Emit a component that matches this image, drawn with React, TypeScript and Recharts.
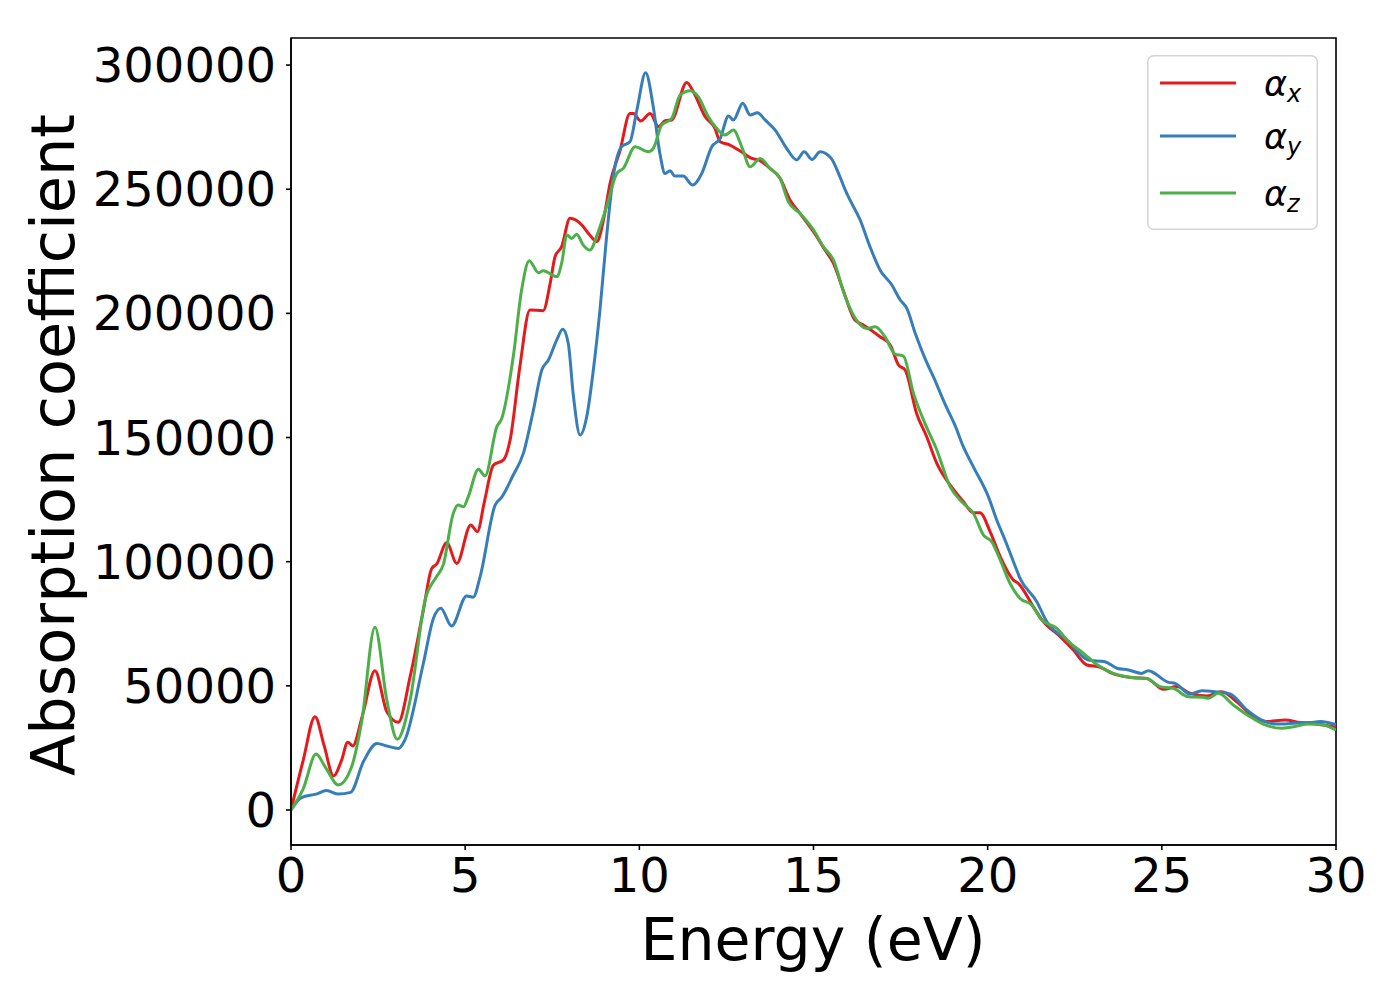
import { LineChart, Line, XAxis, YAxis, Legend, Label, ReferenceArea } from "recharts";

// energies (eV) and absorption values, one pair of arrays per polarisation
const energyX = [
  0, 0.35, 0.69, 0.95, 1.22, 1.45, 1.63, 1.77, 2.05, 2.41, 2.75, 3.08, 3.42, 3.8, 4.04, 4.18, 4.47, 4.76,
  5.16, 5.35, 5.55, 5.81, 6.1, 6.29, 6.57, 6.86, 7.24, 7.44, 7.58, 7.77, 8.01, 8.35, 8.54, 8.78, 8.97,
  9.16, 9.45, 9.73, 9.83, 10.04, 10.31, 10.55, 10.74, 10.93, 11.36, 11.55, 11.89, 12.17, 12.32, 12.6,
  12.99, 13.23, 13.42, 13.75, 14.04, 14.33, 14.61, 15.0, 15.33, 15.57, 15.86, 16.19, 16.43, 16.91, 17.2,
  17.44, 17.63, 17.96, 18.25, 18.54, 18.92, 19.3, 19.59, 19.78, 20.07, 20.36, 20.74, 20.88, 21.31, 21.6,
  22.03, 22.46, 22.85, 23.23, 23.61, 24.19, 24.57, 25.05, 25.43, 25.81, 26.29, 26.72, 27.15, 27.63,
  28.01, 28.54, 28.97, 29.45, 30,
];
const alphaX = [
  0, 20000, 37600, 26000, 13700, 20000, 27300, 25800, 38000, 56100, 39600, 35300, 53700, 80500, 97300,
  99000, 107600, 99300, 114800, 112100, 124000, 138900, 141000, 149000, 178500, 201400, 201100, 212100,
  222800, 226900, 238300, 235600, 232200, 228900, 237600, 252400, 265800, 280500, 280500, 277500,
  280500, 275200, 277600, 277900, 293000, 289300, 279200, 274500, 269100, 267800, 264500, 262400,
  261800, 258400, 254400, 245600, 240300, 232900, 225500, 220200, 209000, 197300, 195300, 190600,
  187300, 179200, 177200, 159700, 150300, 139600, 130900, 124200, 119700, 119700, 112100, 102000,
  92600, 91300, 81900, 75800, 70500, 64400, 58400, 57500, 54800, 53300, 53000, 48600, 49700, 47000,
  45900, 47600, 43600, 37600, 35600, 36200, 35200, 34600, 33300,
];

const energyY = [
  0, 0.3, 0.72, 1.02, 1.36, 1.71, 2.08, 2.47, 2.75, 3.08, 3.27, 3.8, 4.09, 4.3, 4.61, 5.04, 5.23, 5.43,
  5.86, 6.05, 6.38, 6.67, 6.96, 7.2, 7.39, 7.63, 7.8, 7.96, 8.11, 8.3, 8.49, 8.68, 8.87, 9.06, 9.25,
  9.49, 9.73, 9.93, 10.18, 10.4, 10.59, 10.74, 10.88, 11.02, 11.26, 11.53, 11.79, 12.08, 12.32, 12.56,
  12.7, 12.97, 13.18, 13.39, 13.61, 13.9, 14.23, 14.52, 14.73, 14.96, 15.19, 15.5, 15.76, 15.91, 16.05,
  16.34, 16.62, 16.91, 17.25, 17.49, 17.68, 17.92, 18.2, 18.44, 18.83, 19.06, 19.3, 19.59, 20.02, 20.26,
  20.5, 20.74, 20.93, 21.41, 21.7, 22.27, 22.89, 23.37, 23.71, 24.04, 24.42, 24.61, 25.19, 25.38, 25.81,
  26.15, 26.53, 26.96, 27.44, 27.87, 28.3, 28.78, 29.26, 29.55, 30,
];
const alphaY = [
  0, 5000, 6400, 7800, 6400, 7100, 19500, 26800, 25800, 24800, 28200, 59100, 77200, 81200, 74100,
  86200, 85700, 94000, 122800, 126000, 134900, 143600, 161100, 177200, 181200, 189300, 193600, 187900,
  166400, 151000, 158400, 177200, 201400, 230900, 255000, 267100, 269100, 281900, 296900, 283200,
  264400, 256300, 257400, 255300, 255300, 251700, 256300, 267100, 270400, 279500, 277900, 284600,
  279900, 280800, 277900, 273800, 266400, 261800, 265100, 262000, 265100, 262600, 255000, 249700,
  245600, 237600, 226900, 217500, 211400, 205400, 202000, 192000, 181900, 174500, 161800, 155000,
  146300, 138200, 126200, 116800, 108700, 100000, 93300, 83900, 75800, 68500, 60400, 59700, 57100,
  56400, 55000, 56100, 51400, 51000, 46700, 48000, 47600, 46700, 40300, 36200, 34600, 34900, 35200,
  35600, 34400,
];

const energyZ = [
  0, 0.35, 0.72, 0.98, 1.36, 1.74, 2.03, 2.41, 2.75, 3.05, 3.42, 3.85, 4.18, 4.37, 4.66, 4.8, 4.95, 5.09,
  5.38, 5.57, 5.91, 6.05, 6.38, 6.62, 6.84, 7.1, 7.24, 7.63, 7.77, 7.92, 8.06, 8.2, 8.39, 8.58, 8.82,
  9.06, 9.35, 9.54, 9.88, 10.26, 10.4, 10.64, 10.93, 11.17, 11.46, 11.69, 11.98, 12.22, 12.46, 12.7,
  12.94, 13.18, 13.47, 13.75, 14.04, 14.28, 14.61, 15.0, 15.28, 15.57, 15.91, 16.29, 16.53, 16.77,
  17.05, 17.34, 17.58, 17.87, 18.2, 18.54, 18.92, 19.3, 19.59, 19.88, 20.12, 20.36, 20.64, 20.93,
  21.26, 21.55, 21.98, 22.32, 22.75, 23.08, 23.61, 24.09, 24.57, 24.95, 25.33, 25.76, 26.19, 26.33,
  26.62, 27.05, 27.53, 27.91, 28.44, 28.78, 29.21, 29.64, 30,
];
const alphaZ = [
  0, 8500, 22500, 17400, 10100, 17400, 35600, 73600, 44300, 28500, 44300, 84600, 94000, 98700, 119500,
  122800, 122100, 126200, 137200, 134500, 154400, 157700, 182500, 209400, 221200, 216400, 217200,
  214800, 220200, 231600, 230200, 231900, 227500, 225500, 232900, 243000, 256300, 258400, 267100,
  265100, 266400, 275800, 278500, 287900, 289700, 287300, 279200, 274500, 271800, 273800, 267100,
  259000, 262400, 258400, 254400, 244900, 240300, 233600, 226900, 221500, 206700, 196200, 193900,
  194600, 190600, 183600, 182800, 167800, 155700, 145000, 130200, 123500, 119500, 110700, 108000,
  100700, 91300, 85200, 82600, 76500, 73200, 67800, 63100, 59100, 55000, 53400, 53000, 49700, 49000,
  45600, 45400, 45000, 47000, 42300, 37600, 34600, 32900, 33500, 34600, 34200, 32200,
];

const xTicks = [0, 5, 10, 15, 20, 25, 30];
const yTicks = [0, 50000, 100000, 150000, 200000, 250000, 300000];
const xDomain = [0, 30];
const yDomain = [-14100, 310900];

const toPoints = (es: number[], vs: number[]) => es.map((e, i) => ({ e, v: vs[i] }));

const series = [
  { sub: "x", color: "#e41a1c", data: toPoints(energyX, alphaX) },
  { sub: "y", color: "#377eb8", data: toPoints(energyY, alphaY) },
  { sub: "z", color: "#4daf4a", data: toPoints(energyZ, alphaZ) },
];

const FONT = "DejaVu Sans";
const tickStyle = { fill: "#000", fontSize: 48, fontFamily: FONT };

const LegendBox = () => {
  const rows = [28, 81, 138];
  return (
    <svg width={171} height={175} style={{ display: "block" }}>
      <rect x={0.75} y={0.75} width={169.5} height={173.5} rx={6} fill="#fff" fillOpacity={0.8} stroke="#d4d4d4" strokeWidth={1.5} />
      {series.map((s, i) => (
        <g key={s.sub}>
          <line x1={13} x2={89} y1={rows[i]} y2={rows[i]} stroke={s.color} strokeWidth={3} />
          <text x={117} y={rows[i] + 12.5} fontSize={35} fontStyle="italic" fontFamily={FONT} fill="#000">
            α
            <tspan dy={6.5} fontSize={24}>
              {s.sub}
            </tspan>
          </text>
        </g>
      ))}
    </svg>
  );
};

export default function App() {
  return (
    <div style={{ margin: -8, background: "#fff" }}>
      <LineChart width={1400} height={1000} margin={{ top: 38, right: 64, bottom: 35, left: 91 }}>
        <XAxis
          type="number"
          dataKey="e"
          domain={xDomain}
          ticks={xTicks}
          allowDataOverflow
          height={120}
          tickSize={5}
          tickMargin={8}
          tick={tickStyle}
          stroke="#000"
          strokeWidth={1.6}
        >
          <Label
            content={() => (
              <text x={813} y={960} textAnchor="middle" fontSize={58.5} fontFamily={FONT} fill="#000">
                Energy (eV)
              </text>
            )}
          />
        </XAxis>
        <YAxis
          type="number"
          domain={yDomain}
          ticks={yTicks}
          allowDataOverflow
          width={200}
          tickSize={5}
          tickMargin={10}
          tick={tickStyle}
          stroke="#000"
          strokeWidth={1.6}
        >
          <Label
            content={() => (
              <text x={74} y={445} transform="rotate(-90, 74, 445)" textAnchor="middle" fontSize={60.5} fontFamily={FONT} fill="#000">
                Absorption coefficient
              </text>
            )}
          />
        </YAxis>
        {/* frame around the plot area, like the full matplotlib spines */}
        <ReferenceArea
          x1={xDomain[0]}
          x2={xDomain[1]}
          y1={yDomain[0]}
          y2={yDomain[1]}
          fill="none"
          fillOpacity={0}
          stroke="#000"
          strokeWidth={1.6}
          ifOverflow="visible"
        />
        {series.map((s) => (
          <Line
            key={s.sub}
            data={s.data}
            dataKey="v"
            type="monotone"
            stroke={s.color}
            strokeWidth={3}
            dot={false}
            isAnimationActive={false}
          />
        ))}
        <Legend
          layout="horizontal"
          verticalAlign="middle"
          align="center"
          content={() => <LegendBox />}
          wrapperStyle={{ left: 1147, top: 55, width: 171, height: 175 }}
        />
      </LineChart>
    </div>
  );
}
